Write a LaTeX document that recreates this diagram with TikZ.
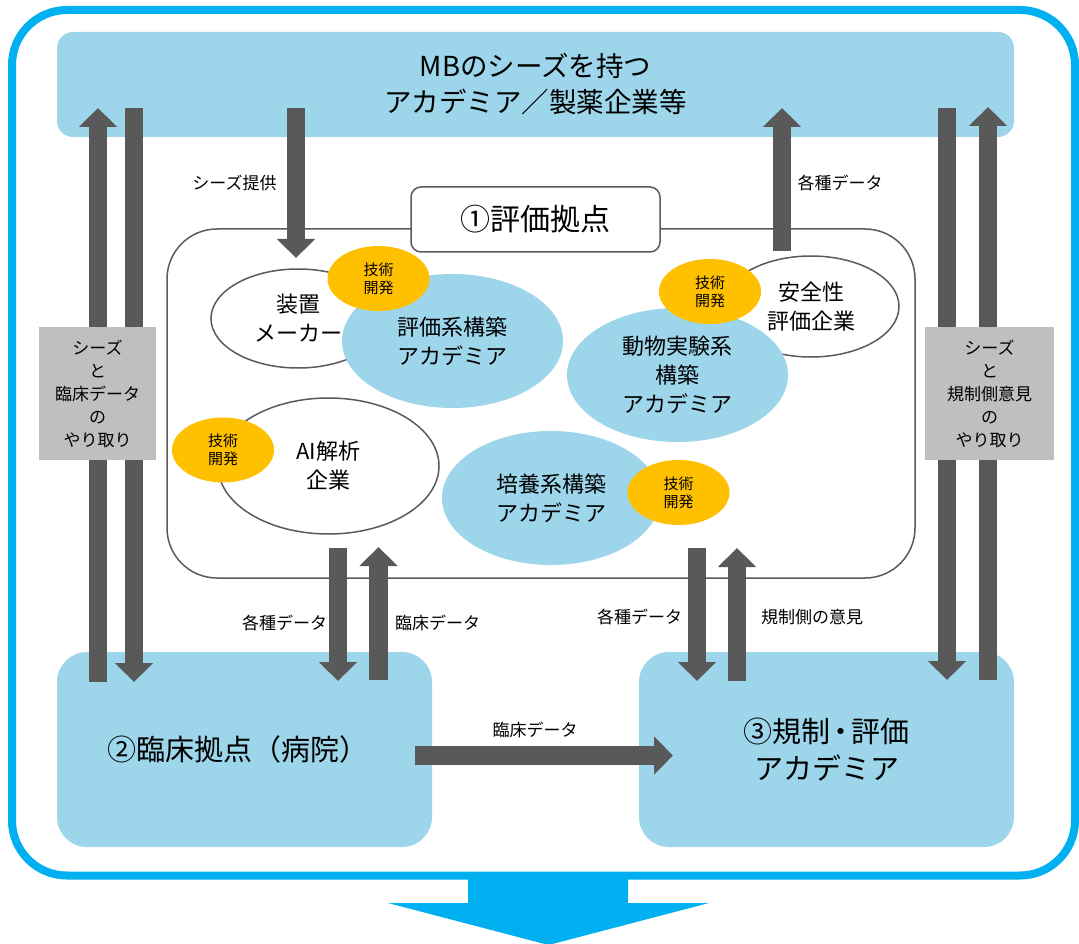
\documentclass[tikz,border=0pt]{standalone}
\usepackage{fontspec}
\newfontfamily\jp{Noto Sans CJK JP}
\usetikzlibrary{arrows.meta,shapes.geometric}
\definecolor{lb}{HTML}{9DD5EA}
\definecolor{ob}{HTML}{00B0F0}
\definecolor{gold}{HTML}{FFC000}
\definecolor{ag}{HTML}{595959}
\definecolor{gb}{HTML}{BFBFBF}
\definecolor{eg}{HTML}{5A5A5A}
\begin{document}
\begin{tikzpicture}[x=1pt,y=-1pt,
  txt/.style={font=\jp, text=black, align=center, inner sep=0pt},
  bigbox/.style={fill=lb, draw=none, rounded corners=30pt, inner sep=0pt},
  whiteell/.style={ellipse, draw=eg, line width=1.5pt, fill=white, inner sep=0pt, txt, font=\jp\fontsize{22}{29}\selectfont},
  blueell/.style={ellipse, draw=none, fill=lb, inner sep=0pt, txt, font=\jp\fontsize{22}{29}\selectfont},
  goldell/.style={ellipse, draw=none, fill=gold, inner sep=0pt, minimum width=102pt, minimum height=65pt, txt, font=\jp\fontsize{15}{18}\selectfont},
  flow/.style={draw=ag, line width=18.5pt, -{Triangle[width=37pt,length=19pt]}},
  graybox/.style={fill=gb, draw=none, inner sep=0pt, txt, font=\jp\fontsize{17}{23}\selectfont},
  lbl/.style={txt, font=\jp\fontsize{17}{21}\selectfont}
]
\useasboundingbox (0,0) rectangle (1079,944);
% outer frame and bottom arrow
\draw[ob, line width=8pt, rounded corners=55pt] (12,10) rectangle (1075,875.5);
\fill[ob] (468,872) -- (628,872) -- (628,903) -- (709,903) -- (548.5,945) -- (388,903) -- (468,903) -- cycle;
% main boxes
\node[bigbox, rounded corners=16pt, minimum width=957pt, minimum height=105pt, font=\jp\fontsize{27.5}{36}\selectfont, align=center] (top) at (535.5,84.5) {MBのシーズを持つ\\アカデミア／製薬企業等};
\node[bigbox, minimum width=375pt, minimum height=195pt, font=\jp\fontsize{29}{37}\selectfont] (clin) at (244.5,749.5) {\hspace*{-14pt}②臨床拠点（病院）};
\node[bigbox, minimum width=375pt, minimum height=195pt, font=\jp\fontsize{29}{37}\selectfont, align=center] (reg) at (826.5,749.5) {③規制\kern-4pt・\kern-4pt評価\\アカデミア};
% evaluation base
\draw[eg, line width=1.5pt, rounded corners=50pt] (167,229) rectangle (915,578);
\node[draw=eg, line width=1.5pt, fill=white, rounded corners=10pt, minimum width=249pt, minimum height=65pt, txt, font=\jp\fontsize{30}{36}\selectfont] (base) at (535.5,219.5) {①評価拠点};
% ellipses
\node[whiteell, minimum width=174pt, minimum height=99pt] (dev) at (298,318.5) {装置\\メーカー};
\node[whiteell, minimum width=221pt, minimum height=136pt] (ai) at (328.5,466) {AI解析\\企業};
\node[whiteell, minimum width=176pt, minimum height=101pt] (safe) at (811,306.5) {安全性\\評価企業};
\node[blueell, minimum width=221pt, minimum height=134pt] (evs) at (452.5,341) {評価系構築\\アカデミア};
\node[blueell, minimum width=221pt, minimum height=134pt] (anim) at (677.5,375) {動物実験系\\構築\\アカデミア};
\node[blueell, minimum width=218pt, minimum height=134pt] (cult) at (551,498) {培養系構築\\アカデミア};
\node[goldell] (g1) at (378.5,278.5) {技術\\開発};
\node[goldell] (g2) at (223,450) {技術\\開発};
\node[goldell] (g3) at (710,291.5) {技術\\開発};
\node[goldell] (g4) at (678.5,492.5) {技術\\開発};
% arrow end points
\coordinate (l1a) at (98,682);  \coordinate (l1b) at (98,108);
\coordinate (l2a) at (134,108); \coordinate (l2b) at (134,682);
\coordinate (s1a) at (296,108); \coordinate (s1b) at (296,258);
\coordinate (d1a) at (782,251); \coordinate (d1b) at (782,108);
\coordinate (r1a) at (947,108); \coordinate (r1b) at (947,680);
\coordinate (r2a) at (988,680); \coordinate (r2b) at (988,107);
\coordinate (b1a) at (338,548); \coordinate (b1b) at (338,681);
\coordinate (b2a) at (378.5,680); \coordinate (b2b) at (378.5,547);
\coordinate (b3a) at (697,548); \coordinate (b3b) at (697,681);
\coordinate (b4a) at (737,681); \coordinate (b4b) at (737,548);
\coordinate (h1a) at (415,755.5); \coordinate (h1b) at (673,755.5);
\draw[flow] (l1a) -- (l1b);
\draw[flow] (l2a) -- (l2b);
\draw[flow] (s1a) -- (s1b);
\draw[flow] (d1a) -- (d1b);
\draw[flow] (r1a) -- (r1b);
\draw[flow] (r2a) -- (r2b);
\draw[flow] (b1a) -- (b1b);
\draw[flow] (b2a) -- (b2b);
\draw[flow] (b3a) -- (b3b);
\draw[flow] (b4a) -- (b4b);
\draw[flow] (h1a) -- (h1b);
% gray exchange boxes
\node[graybox, minimum width=117pt, minimum height=133pt] (xl) at (97.5,393.5) {シーズ\\と\\臨床データ\\の\\やり取り};
\node[graybox, minimum width=129pt, minimum height=133pt] (xr) at (989.5,393.5) {シーズ\\と\\規制側意見\\の\\やり取り};
% labels
\node[lbl] (t1) at (234.5,183) {シーズ提供};
\node[lbl] (t2) at (840,183) {各種データ};
\node[lbl] (t3) at (284.5,623) {各種データ};
\node[lbl] (t4) at (437.5,623) {臨床データ};
\node[lbl] (t5) at (639.5,617) {各種データ};
\node[lbl] (t6) at (812,617) {規制側の意見};
\node[lbl] (t7) at (535,730) {臨床データ};
\end{tikzpicture}
\end{document}
